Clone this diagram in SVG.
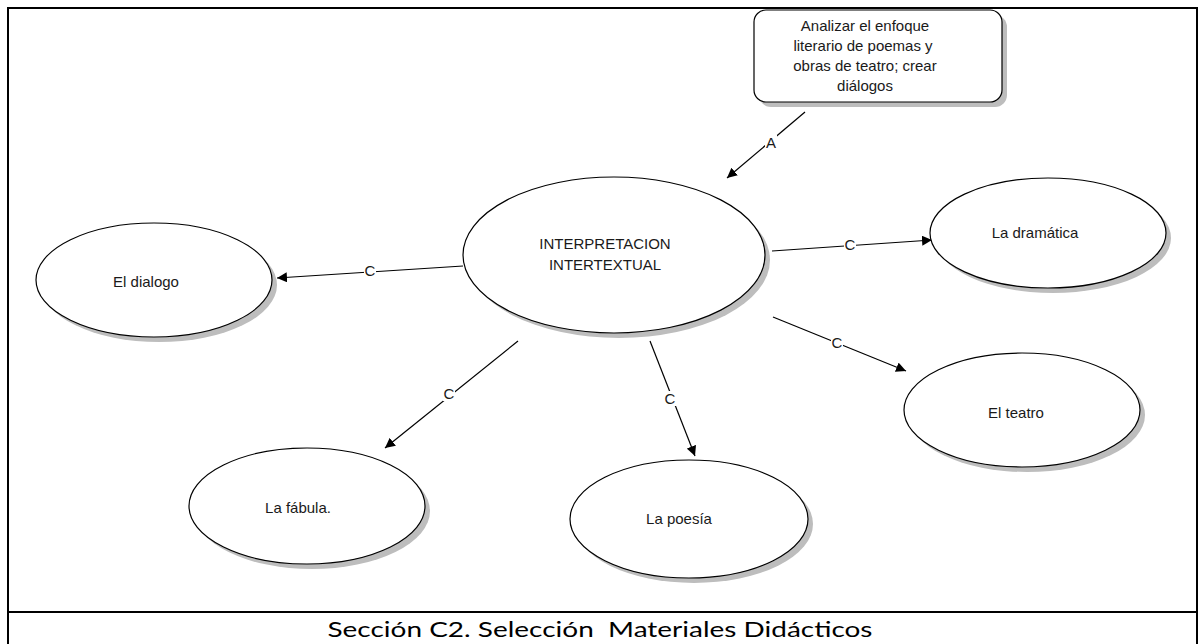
<svg xmlns="http://www.w3.org/2000/svg" width="1199" height="644" viewBox="0 0 1199 644">
  <style>
    .node { fill: #ffffff; stroke: #000000; stroke-width: 1.2; }
    .shadow { fill: #bdbdbd; filter: url(#soft); }
    .lbl { font-family: "Liberation Sans", Arial, sans-serif; font-size: 15px; fill: #1a1a1a; text-anchor: middle; }
    .edge { stroke: #000000; stroke-width: 1.2; fill: none; marker-end: url(#arrow); }
    .tag { font-family: "Liberation Sans", Arial, sans-serif; font-size: 15px; fill: #1a1a1a; text-anchor: middle; }
    .tagbg { fill: #ffffff; }
    .frame { fill: none; stroke: #000000; stroke-width: 2; }
    .caption { font-family: Lato, "Open Sans", sans-serif; font-size: 22px; fill: #000000; text-anchor: middle; white-space: pre; }
  </style>
  <defs>
    <filter id="soft" x="-10%" y="-10%" width="120%" height="120%">
      <feGaussianBlur stdDeviation="0.7"/>
    </filter>
    <marker id="arrow" viewBox="0 0 10 10" refX="10" refY="5" markerWidth="10" markerHeight="10" markerUnits="userSpaceOnUse" orient="auto">
      <path d="M0,0 L10,5 L0,10 z" fill="#000000"/>
    </marker>
  </defs>

  <rect width="1199" height="644" fill="#ffffff"/>

  <!-- page frame and caption strip -->
  <g id="frame">
    <rect class="frame" x="8" y="8" width="1189" height="650"/>
    <line class="frame" x1="8" y1="612" x2="1197" y2="612"/>
    <text class="caption" x="600" y="637" textLength="545" lengthAdjust="spacingAndGlyphs" xml:space="preserve">Sección C2. Selección  Materiales Didácticos</text>
  </g>

  <!-- connectors -->
  <g id="connectors">
    <line class="edge" x1="805" y1="112" x2="727" y2="178"/>
    <line class="edge" x1="463" y1="266" x2="277" y2="278"/>
    <line class="edge" x1="772" y1="251" x2="932" y2="240"/>
    <line class="edge" x1="773" y1="317" x2="906" y2="371"/>
    <line class="edge" x1="518" y1="341" x2="385" y2="448"/>
    <line class="edge" x1="650" y1="341" x2="695" y2="456"/>
    <g id="edge-labels">
      <rect class="tagbg" x="765" y="135" width="12" height="15"/>
      <text class="tag" x="771" y="148">A</text>
      <rect class="tagbg" x="364" y="263" width="12" height="15"/>
      <text class="tag" x="370" y="276">C</text>
      <rect class="tagbg" x="844" y="237" width="12" height="15"/>
      <text class="tag" x="850" y="250">C</text>
      <rect class="tagbg" x="831" y="335" width="12" height="15"/>
      <text class="tag" x="837" y="348">C</text>
      <rect class="tagbg" x="443" y="386" width="12" height="15"/>
      <text class="tag" x="449" y="399">C</text>
      <rect class="tagbg" x="664" y="391" width="12" height="15"/>
      <text class="tag" x="670" y="404">C</text>
    </g>
  </g>

  <!-- nodes -->
  <g id="objetivo">
    <rect class="shadow" x="759" y="15" width="248" height="92" rx="12"/>
    <rect class="node" x="754" y="10" width="248" height="92" rx="12"/>
    <text class="lbl" x="865" y="31">Analizar el enfoque</text>
    <text class="lbl" x="863" y="51">literario de poemas y</text>
    <text class="lbl" x="865" y="71">obras de teatro; crear</text>
    <text class="lbl" x="865" y="91">diálogos</text>
  </g>

  <g id="interpretacion">
    <ellipse class="shadow" cx="619" cy="260" rx="151" ry="78"/>
    <ellipse class="node" cx="614" cy="255" rx="151" ry="78"/>
    <text class="lbl" x="605" y="249">INTERPRETACION</text>
    <text class="lbl" x="605" y="270">INTERTEXTUAL</text>
  </g>

  <g id="dialogo">
    <ellipse class="shadow" cx="159" cy="285" rx="118" ry="57"/>
    <ellipse class="node" cx="154" cy="280" rx="118" ry="57"/>
    <text class="lbl" x="146" y="287">El dialogo</text>
  </g>

  <g id="dramatica">
    <ellipse class="shadow" cx="1053" cy="238" rx="118" ry="55"/>
    <ellipse class="node" cx="1048" cy="233" rx="118" ry="55"/>
    <text class="lbl" x="1035" y="238">La dramática</text>
  </g>

  <g id="teatro">
    <ellipse class="shadow" cx="1027" cy="415" rx="118" ry="57"/>
    <ellipse class="node" cx="1022" cy="410" rx="118" ry="57"/>
    <text class="lbl" x="1016" y="418">El teatro</text>
  </g>

  <g id="fabula">
    <ellipse class="shadow" cx="312" cy="511" rx="118" ry="58"/>
    <ellipse class="node" cx="307" cy="506" rx="118" ry="58"/>
    <text class="lbl" x="298" y="513">La fábula.</text>
  </g>

  <g id="poesia">
    <ellipse class="shadow" cx="694" cy="524" rx="119" ry="59"/>
    <ellipse class="node" cx="689" cy="519" rx="119" ry="59"/>
    <text class="lbl" x="679" y="524">La poesía</text>
  </g>
</svg>
